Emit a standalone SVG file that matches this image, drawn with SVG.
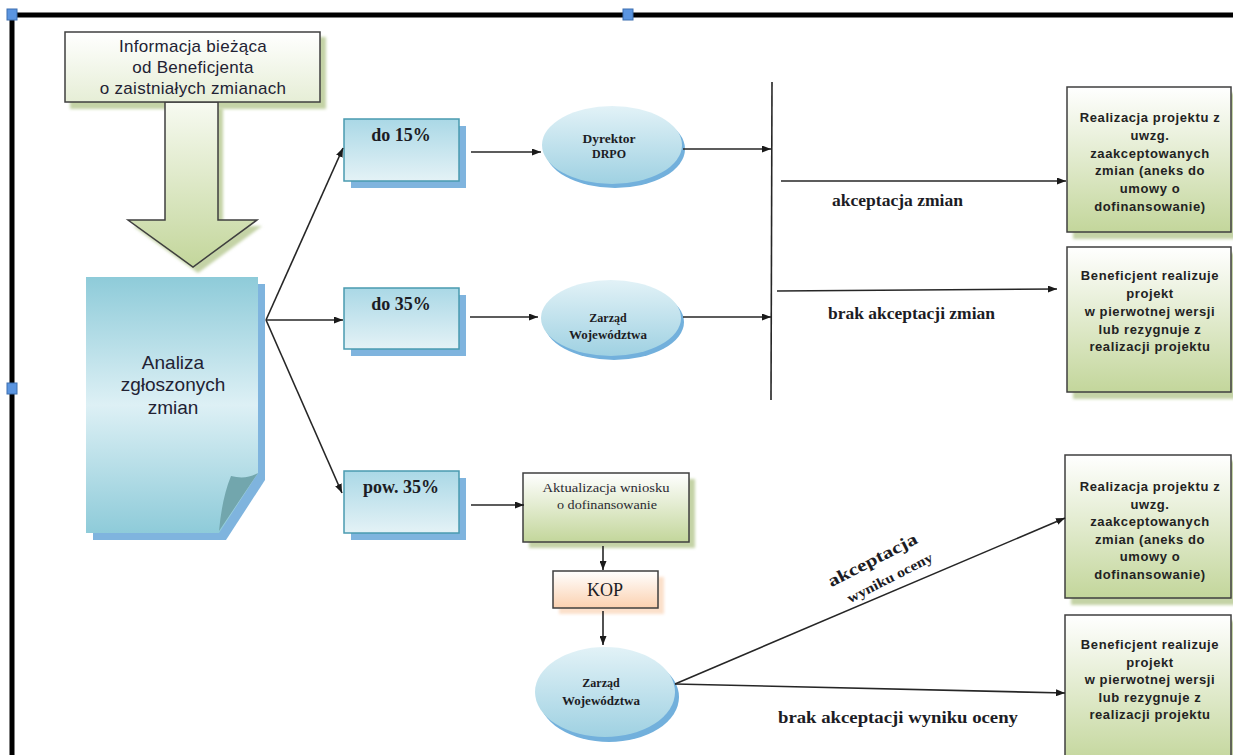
<svg xmlns="http://www.w3.org/2000/svg" width="1233" height="755" viewBox="0 0 1233 755">
<defs>
<linearGradient id="gGreen" x1="0" y1="0" x2="0" y2="1"><stop offset="0" stop-color="#ffffff"/><stop offset="1" stop-color="#c3d69b"/></linearGradient>
<linearGradient id="gInfo" x1="0" y1="0" x2="0" y2="1"><stop offset="0" stop-color="#ffffff"/><stop offset="1" stop-color="#e6eed6"/></linearGradient>
<linearGradient id="gArrow" x1="0" y1="0" x2="0" y2="1"><stop offset="0" stop-color="#f7faf1"/><stop offset="1" stop-color="#c3d69b"/></linearGradient>
<linearGradient id="gBlueBox" x1="0" y1="0" x2="0" y2="1"><stop offset="0" stop-color="#aad8e6"/><stop offset="1" stop-color="#e4f2f6"/></linearGradient>
<linearGradient id="gDoc" x1="0" y1="0" x2="0" y2="1"><stop offset="0" stop-color="#8ecbd9"/><stop offset="0.5" stop-color="#ddf0f5"/><stop offset="1" stop-color="#8ecbd9"/></linearGradient>
<linearGradient id="gEll" x1="0" y1="0" x2="0" y2="1"><stop offset="0" stop-color="#e2f2f7"/><stop offset="1" stop-color="#9fd1e2"/></linearGradient>
<linearGradient id="gKop" x1="0" y1="0" x2="0" y2="1"><stop offset="0" stop-color="#ffffff"/><stop offset="1" stop-color="#fbd1b0"/></linearGradient>
<filter id="blur" x="-10%" y="-10%" width="120%" height="120%"><feGaussianBlur stdDeviation="1.5"/></filter>
<marker id="ah" markerUnits="userSpaceOnUse" markerWidth="9" markerHeight="7" refX="9" refY="3.5" orient="auto"><path d="M0,0 L9,3.5 L0,7 z" fill="#1a1a1a"/></marker>
</defs>
<style>
.frame{stroke:#000;stroke-width:5;fill:none}
.handle{fill:#5b95e0;stroke:#3d6fb0;stroke-width:1}
.conn{stroke:#262626;stroke-width:1.6;fill:none}
.sans{font-family:"Liberation Sans",Arial,sans-serif;fill:#222233}
.serif{font-family:"Liberation Serif","Times New Roman",serif;fill:#1c1c24;font-weight:bold}
.bx{stroke:#3f3f3f;stroke-width:1.5}
.blue{fill:url(#gBlueBox);stroke:#4a9ab0;stroke-width:1.5}
.bshadow{fill:#7fb4de}
.gshadow{fill:#c4d3a6;filter:url(#blur)}
.eshadow{fill:#72b0dc}
.ell{fill:url(#gEll)}
.rt{font-family:"Liberation Sans",Arial,sans-serif;font-weight:bold;font-size:13px;letter-spacing:0.6px;fill:#222222;text-anchor:middle}
</style>

<g id="frame">
<line class="frame" x1="8" y1="15" x2="1233" y2="15"/>
<line class="frame" x1="12" y1="13" x2="12" y2="755"/>
<rect class="handle" x="623" y="9" width="10" height="11"/>
<rect class="handle" x="7" y="9" width="10" height="11"/>
<rect class="handle" x="7" y="383" width="10" height="11"/>
</g>

<g id="info">
<rect class="gshadow" x="70" y="37" width="256" height="72"/>
<path class="gshadow" d="M170,108 V226 H133 L198,273 L262,226 H223 V108 Z"/>
<path d="M165,102 V220 H128 L193,267 L257,220 H218 V102 Z" fill="url(#gArrow)" class="bx"/>
<rect x="65" y="32" width="255" height="70" fill="url(#gInfo)" class="bx"/>
<text class="sans" font-size="17" letter-spacing="0.3" text-anchor="middle"><tspan x="193" y="52">Informacja bieżąca</tspan><tspan x="193" y="73">od Beneficjenta</tspan><tspan x="193" y="94">o zaistniałych zmianach</tspan></text>
</g>

<g id="analiza">
<path class="bshadow" d="M93,284 H265 V480 L226,540 H93 Z"/>
<path d="M86,277 H258 V473 L219,533 H86 Z" fill="url(#gDoc)"/>
<path d="M219,531 Q222,498 231,476 Q246,480 258,473 Z" fill="#72a6ad"/>
<text class="sans" font-size="19" text-anchor="middle" fill="#25253a"><tspan x="173" y="369">Analiza</tspan><tspan x="173" y="391">zgłoszonych</tspan><tspan x="173" y="414">zmian</tspan></text>
</g>

<g id="do15">
<rect class="bshadow" x="351" y="126" width="115" height="62"/>
<rect class="blue" x="344" y="119" width="115" height="62"/>
<text class="serif" font-size="18" x="401" y="141" text-anchor="middle">do 15%</text>
</g>

<g id="do35">
<rect class="bshadow" x="351" y="295" width="115" height="61"/>
<rect class="blue" x="344" y="288" width="115" height="61"/>
<text class="serif" font-size="18" x="401" y="310" text-anchor="middle">do 35%</text>
</g>

<g id="pow35">
<rect class="bshadow" x="351" y="478" width="115" height="62"/>
<rect class="blue" x="344" y="471" width="115" height="62"/>
<text class="serif" font-size="18" x="401" y="493" text-anchor="middle">pow. 35%</text>
</g>

<g id="dyrektor">
<ellipse class="eshadow" cx="615" cy="149" rx="70" ry="39"/>
<ellipse class="ell" cx="612" cy="145" rx="70" ry="39"/>
<text class="serif" font-size="12" text-anchor="middle"><tspan x="609" y="143" textLength="53" lengthAdjust="spacingAndGlyphs">Dyrektor</tspan><tspan x="609" y="158">DRPO</tspan></text>
</g>

<g id="zarzad1">
<ellipse class="eshadow" cx="614" cy="322" rx="70" ry="38"/>
<ellipse class="ell" cx="611" cy="318" rx="70" ry="38"/>
<text class="serif" font-size="12" text-anchor="middle"><tspan x="608" y="322">Zarząd</tspan><tspan x="608" y="339" textLength="78" lengthAdjust="spacingAndGlyphs">Województwa</tspan></text>
</g>

<g id="aktualizacja">
<rect class="gshadow" x="529" y="479" width="166" height="69"/>
<rect x="523" y="473" width="166" height="69" fill="url(#gGreen)" class="bx"/>
<text font-family="Liberation Serif, Times New Roman, serif" font-size="12.5" fill="#2a2a33" text-anchor="middle"><tspan x="606" y="492" textLength="127" lengthAdjust="spacingAndGlyphs">Aktualizacja  wniosku</tspan><tspan x="607" y="509" textLength="100" lengthAdjust="spacingAndGlyphs">o dofinansowanie</tspan></text>
</g>

<g id="kop">
<rect x="559" y="577" width="105" height="37" fill="#fbe0cb" filter="url(#blur)"/>
<rect x="553" y="571" width="105" height="37" fill="url(#gKop)" class="bx"/>
<text font-family="Liberation Serif, Times New Roman, serif" font-size="18" fill="#1c1c24" x="605" y="596" text-anchor="middle">KOP</text>
</g>

<g id="zarzad2">
<ellipse class="eshadow" cx="609" cy="697" rx="70" ry="45"/>
<ellipse class="ell" cx="605" cy="692" rx="70" ry="45"/>
<text class="serif" font-size="12" text-anchor="middle"><tspan x="601" y="687">Zarząd</tspan><tspan x="601" y="705" textLength="78" lengthAdjust="spacingAndGlyphs">Województwa</tspan></text>
</g>

<g id="real1">
<rect class="gshadow" x="1073" y="93" width="166" height="146"/>
<rect x="1067" y="87" width="164" height="145" fill="url(#gGreen)" class="bx"/>
<text class="rt"><tspan x="1150" y="122">Realizacja projektu z</tspan><tspan x="1150" y="140">uwzg.</tspan><tspan x="1150" y="158">zaakceptowanych</tspan><tspan x="1150" y="175">zmian (aneks do</tspan><tspan x="1150" y="193">umowy o</tspan><tspan x="1150" y="211">dofinansowanie)</tspan></text>
</g>

<g id="benef1">
<rect class="gshadow" x="1073" y="253" width="166" height="146"/>
<rect x="1067" y="247" width="164" height="145" fill="url(#gGreen)" class="bx"/>
<text class="rt"><tspan x="1150" y="280">Beneficjent realizuje</tspan><tspan x="1150" y="298">projekt</tspan><tspan x="1150" y="316">w pierwotnej wersji</tspan><tspan x="1150" y="334">lub rezygnuje z</tspan><tspan x="1150" y="351">realizacji projektu</tspan></text>
</g>

<g id="real2">
<rect class="gshadow" x="1071" y="461" width="166" height="144"/>
<rect x="1065" y="455" width="166" height="143" fill="url(#gGreen)" class="bx"/>
<text class="rt"><tspan x="1150" y="491">Realizacja projektu z</tspan><tspan x="1150" y="509">uwzg.</tspan><tspan x="1150" y="526">zaakceptowanych</tspan><tspan x="1150" y="544">zmian (aneks do</tspan><tspan x="1150" y="561">umowy o</tspan><tspan x="1150" y="579">dofinansowanie)</tspan></text>
</g>

<g id="benef2">
<rect class="gshadow" x="1071" y="621" width="166" height="150"/>
<rect x="1065" y="615" width="166" height="150" fill="url(#gGreen)" class="bx"/>
<text class="rt"><tspan x="1150" y="649">Beneficjent realizuje</tspan><tspan x="1150" y="667">projekt</tspan><tspan x="1150" y="684">w pierwotnej wersji</tspan><tspan x="1150" y="702">lub rezygnuje z</tspan><tspan x="1150" y="719">realizacji projektu</tspan></text>
</g>

<g id="connectors">
<line class="conn" x1="772" y1="82" x2="771" y2="400"/>
<line class="conn" marker-end="url(#ah)" x1="266" y1="320" x2="343" y2="148"/>
<line class="conn" marker-end="url(#ah)" x1="266" y1="320" x2="343" y2="320"/>
<line class="conn" marker-end="url(#ah)" x1="266" y1="320" x2="342" y2="493"/>
<line class="conn" marker-end="url(#ah)" x1="471" y1="152" x2="541" y2="152"/>
<line class="conn" marker-end="url(#ah)" x1="470" y1="317" x2="538" y2="317"/>
<line class="conn" marker-end="url(#ah)" x1="683" y1="149" x2="771" y2="149"/>
<line class="conn" marker-end="url(#ah)" x1="683" y1="317" x2="771" y2="317"/>
<line class="conn" marker-end="url(#ah)" x1="781" y1="181" x2="1066" y2="181"/>
<line class="conn" marker-end="url(#ah)" x1="777" y1="291" x2="1057" y2="289"/>
<line class="conn" marker-end="url(#ah)" x1="471" y1="505" x2="524" y2="505"/>
<line class="conn" marker-end="url(#ah)" x1="603" y1="546" x2="603" y2="570"/>
<line class="conn" marker-end="url(#ah)" x1="603" y1="611" x2="603" y2="645"/>
<line class="conn" marker-end="url(#ah)" x1="675" y1="684" x2="1065" y2="518"/>
<line class="conn" marker-end="url(#ah)" x1="675" y1="684" x2="1065" y2="693"/>
</g>

<g id="labels">
<text class="serif" font-size="17" x="832" y="206" textLength="131" lengthAdjust="spacingAndGlyphs">akceptacja  zmian</text>
<text class="serif" font-size="17" x="828" y="319" textLength="167" lengthAdjust="spacingAndGlyphs">brak akceptacji zmian</text>
<text class="serif" font-size="17" x="778" y="723" textLength="240" lengthAdjust="spacingAndGlyphs">brak akceptacji wyniku oceny</text>
<text class="serif" font-size="17" text-anchor="middle" transform="translate(875,565) rotate(-27)" textLength="98" lengthAdjust="spacingAndGlyphs">akceptacja</text>
<text class="serif" font-size="14" text-anchor="middle" transform="translate(892,582) rotate(-27)" textLength="94" lengthAdjust="spacingAndGlyphs">wyniku oceny</text>
</g>
</svg>
